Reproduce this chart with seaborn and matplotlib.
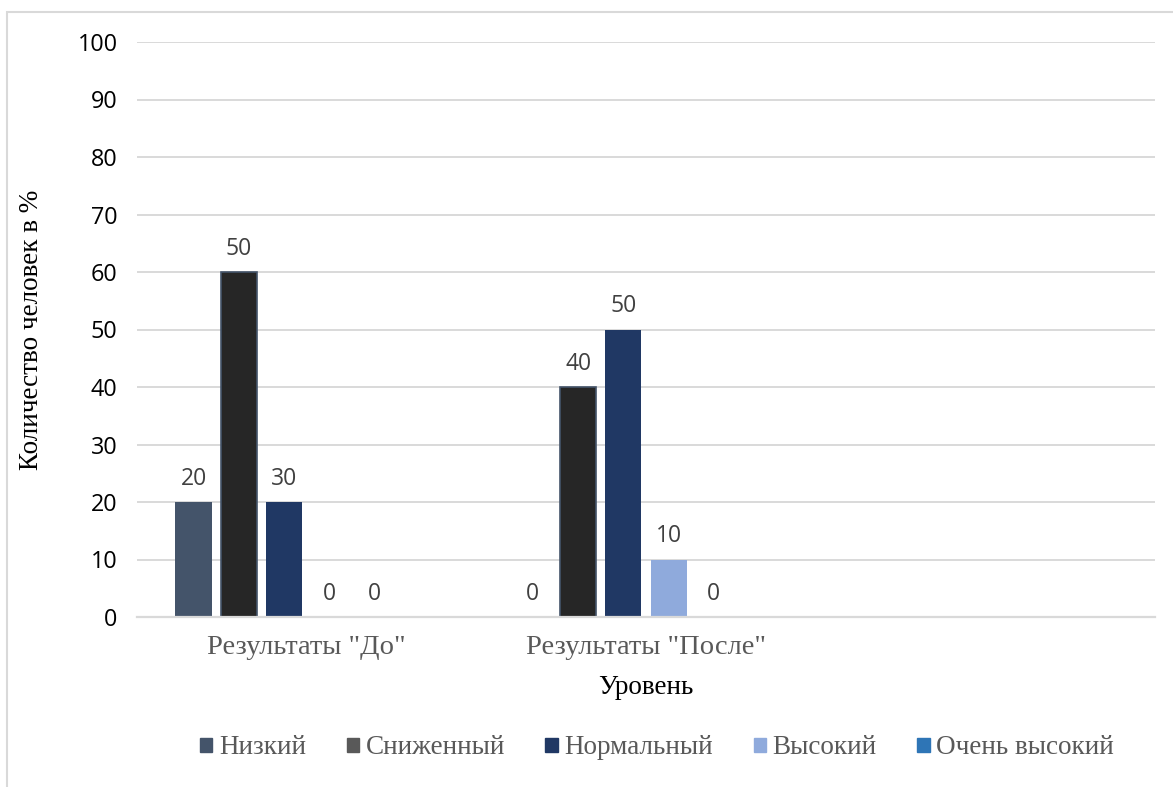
"""
Bar chart: distribution of levels before / after (values in %).
"""
import pandas as pd
import matplotlib.pyplot as plt
import matplotlib.colors as mcolors
import seaborn as sns
from matplotlib.patches import Patch, Rectangle

sns.set_theme(style="white")
plt.rcParams["font.family"] = ["Liberation Serif", "DejaVu Serif"]

# data
categories = ['Результаты "До"', 'Результаты "После"']
series = ["Низкий", "Сниженный", "Нормальный", "Высокий", "Очень высокий"]
bar_before = [20, 60, 20, 0, 0]
bar_after = [0, 40, 50, 10, 0]
label_before = [20, 50, 30, 0, 0]
label_after = [0, 40, 50, 10, 0]
y_ticks = [0, 10, 20, 30, 40, 50, 60, 70, 80, 90, 100]

bar_colors = ["#44546a", "#262626", "#203864", "#8faadc", "#2e75b6"]
legend_colors = ["#44546a", "#595959", "#203864", "#8faadc", "#2e75b6"]

rows = []
for s, b, a in zip(series, bar_before, bar_after):
    rows.append({"category": categories[0], "series": s, "value": b})
    rows.append({"category": categories[1], "series": s, "value": a})
df = pd.DataFrame(rows)

# Excel reserved a sixth (empty) slot in each group
hue_order = series + ["_spare"]
palette = dict(zip(series, bar_colors))
palette["_spare"] = "#ffffff"

fig = plt.figure(figsize=(11.73, 7.87), dpi=100)
ax = fig.add_axes([137 / 1173, 1 - 617 / 787, (1155 - 137) / 1173, (617 - 42) / 787])

sns.barplot(data=df, x="category", y="value", hue="series", order=categories,
            hue_order=hue_order, palette=palette, width=0.8, gap=0.2,
            saturation=1, errorbar=None, linewidth=0, legend=False, ax=ax)

# value labels (the source chart shows labels that differ from bar heights)
labels = [list(p) for p in zip(label_before, label_after)]
bars = [p for p in ax.patches if p.get_width() > 0]
for i, col in enumerate(bar_colors):
    rgb = mcolors.to_rgb(col)
    mine = [p for p in bars if sum(abs(a - b) for a, b in zip(p.get_facecolor()[:3], rgb)) < 0.01]
    mine.sort(key=lambda p: p.get_x())
    for bar, lab in zip(mine, labels[i]):
        if series[i] == "Сниженный":
            bar.set_edgecolor("#44546a")
            bar.set_linewidth(1.2)
        ax.annotate(str(lab), (bar.get_x() + bar.get_width() / 2, bar.get_height()),
                    xytext=(0, 8), textcoords="offset points", ha="center", va="bottom",
                    color="#404040", fontsize=16.5, family=["Open Sans", "DejaVu Sans"])

ax.set_xlim(-0.5, 2.5)
ax.set_ylim(0, 100)
ax.set_yticks(y_ticks)
ax.set_xticks([0, 1, 2])
ax.set_xticklabels(categories + [""], color="#595959", fontsize=20.5)
ax.tick_params(axis="x", length=0, pad=13)
ax.tick_params(axis="y", length=0, pad=14)
for t in ax.get_yticklabels():
    t.set_family(["Open Sans", "DejaVu Sans"])
    t.set_fontsize(16.8)
    t.set_color("black")

ax.yaxis.grid(True, color="#d9d9d9", linewidth=1.4)
ax.set_axisbelow(True)
for side in ["top", "right", "left"]:
    ax.spines[side].set_visible(False)
ax.spines["bottom"].set_color("#d9d9d9")
ax.spines["bottom"].set_linewidth(1.6)

ax.set_ylabel("Количество человек в %", fontsize=19.5, color="black")
ax.yaxis.set_label_coords(-0.091, 0.5)
ax.set_xlabel("Уровень", fontsize=19.5, color="black")
ax.xaxis.set_label_coords(0.5, -0.1)

handles = [Patch(facecolor=c, edgecolor=c) for c in legend_colors]
fig.legend(handles, series, loc="center", bbox_to_anchor=(657 / 1173, 1 - 748 / 787),
           ncol=5, frameon=False, fontsize=19.5, handlelength=0.45, handleheight=0.45,
           handletextpad=0.25, columnspacing=1.5, labelcolor="#595959")

# chart area border (only left and top visible in the crop)
fig.patches.append(Rectangle((7 / 1173, -0.1), 1.2, 1.1 - 12 / 787, fill=False,
                             edgecolor="#d9d9d9", linewidth=1.5,
                             transform=fig.transFigure, figure=fig))

fig.savefig("out.png", dpi=100)
